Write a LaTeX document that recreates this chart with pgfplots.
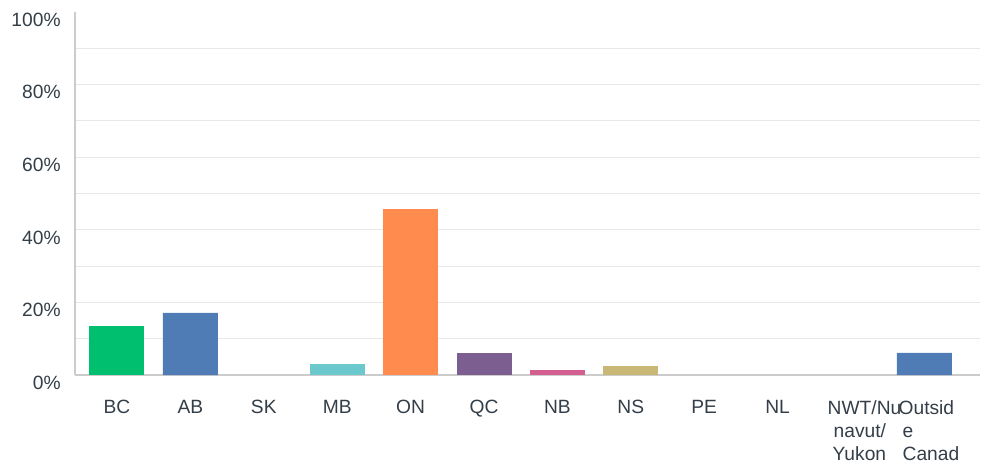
\documentclass[border=0pt]{standalone}
\usepackage{pgfplots}
\pgfplotsset{compat=1.18}
\usepackage{fontspec}
\setmainfont{Liberation Sans}
\definecolor{txt}{HTML}{333E48}
\definecolor{gridc}{HTML}{E8E8E8}
\definecolor{axc}{HTML}{CCCCCC}
\definecolor{cgreen}{HTML}{00BF6F}
\definecolor{cblue}{HTML}{507CB6}
\definecolor{cteal}{HTML}{6BC8CD}
\definecolor{corange}{HTML}{FF8B4F}
\definecolor{cpurple}{HTML}{7D5E90}
\definecolor{cpink}{HTML}{D25F90}
\definecolor{ctan}{HTML}{C9B775}
\begin{document}
\begin{tikzpicture}
\begin{axis}[
  at={(0,0)}, anchor=south west,
  scale only axis,
  width=452.5pt, height=181.5pt,
  xmin=-0.572, xmax=11.757,
  ymin=0, ymax=100,
  xtick={0,...,11},
  xticklabels={BC,AB,SK,MB,ON,QC,NB,NS,PE,NL,
    {\hspace*{13.5pt}NWT/Nu\\\hspace*{16.5pt}navut/\\\hspace*{16pt}Yukon},
    {\hspace*{4.5pt}Outsid\\\hspace*{6.5pt}e\\\hspace*{6.5pt}Canad}},
  ytick={0,20,...,100},
  yticklabels={0\%,20\%,40\%,60\%,80\%,100\%},
  minor ytick={10,20,...,90},
  ymajorgrids=false, yminorgrids=true,
  minor grid style={draw=gridc, line width=0.6pt},
  axis x line=bottom, axis y line=left,
  axis line style={-, draw=axc, line width=0.8pt},
  major tick length=0pt, minor tick length=0pt,
  tick label style={font=\fontsize{9.6}{11.5}\selectfont, text=txt},
  xticklabel style={anchor=north, inner sep=0pt, yshift=-12.5pt, align=left},
  yticklabel style={anchor=east, inner sep=0pt, xshift=-7pt, yshift=-3.8pt},
  bar width=27.5pt,
  every axis plot/.append style={ybar, bar shift=0pt, draw=none},
]
  \addplot[fill=cgreen] coordinates {(0,13.5)};
  \addplot[fill=cblue] coordinates {(1,17.1) (11,6.1)};
  \addplot[fill=none] coordinates {(2,0) (8,0) (9,0) (10,0)};
  \addplot[fill=cteal] coordinates {(3,3.0)};
  \addplot[fill=corange] coordinates {(4,45.7)};
  \addplot[fill=cpurple] coordinates {(5,6.1)};
  \addplot[fill=cpink] coordinates {(6,1.5)};
  \addplot[fill=ctan] coordinates {(7,2.6)};
\end{axis}
\pgfresetboundingbox
\path (-37.5pt,-45.5pt) rectangle (455pt,187.5pt);
\end{tikzpicture}
\end{document}
